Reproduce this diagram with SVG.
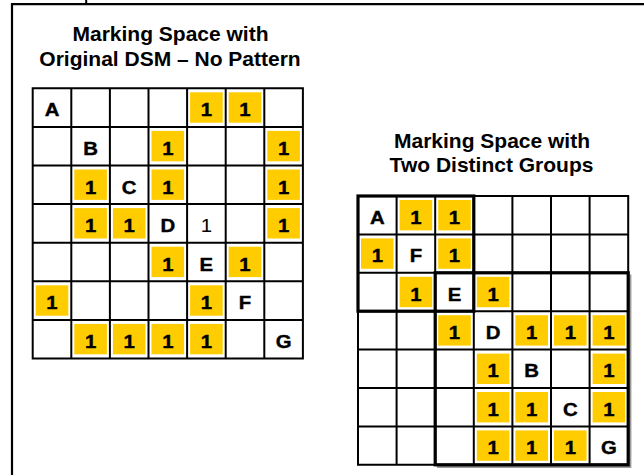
<svg xmlns="http://www.w3.org/2000/svg" width="644" height="475" viewBox="0 0 644 475">
<style>
.bg{fill:#fff}
.grid{fill:none;stroke:#000;stroke-width:2}
.thick{fill:none;stroke:#000;stroke-width:3.2}
.shadow{fill:none;stroke:#9a9a9a;stroke-width:2}
.y{fill:#FFCC00}
.t{font-family:"Liberation Sans",Arial,sans-serif;font-size:18.5px;font-weight:bold;fill:#000;stroke:#000;stroke-width:0.4;text-anchor:middle}
.n{font-weight:normal;stroke:none}
.title{font-family:"Liberation Sans",Arial,sans-serif;font-size:21px;font-weight:bold;fill:#000;text-anchor:middle}
</style>
<rect class="bg" x="0" y="0" width="644" height="475"/>
<g id="frame">
<path d="M12,475 V4.2 H644" fill="none" stroke="#000" stroke-width="2.2"/>
<line x1="86.2" y1="0" x2="86.2" y2="3.5" stroke="#000" stroke-width="2"/>
</g>
<g id="title-left">
<text class="title" x="170.5" y="41">Marking Space with</text>
<text class="title" x="170" y="65.5">Original DSM – No Pattern</text>
</g>
<g id="title-right">
<text class="title" x="492" y="147.5">Marking Space with</text>
<text class="title" x="491.5" y="172">Two Distinct Groups</text>
</g>
<g id="dsm-original" transform="translate(32.7,88.3)">
<rect class="bg" x="0" y="0" width="270.2" height="270.2"/>
<g id="marks-original">
<rect class="y" x="157.4" y="4" width="32.6" height="30.4"/>
<rect class="y" x="196" y="4" width="32.6" height="30.4"/>
<rect class="y" x="118.8" y="42.6" width="32.6" height="30.4"/>
<rect class="y" x="234.6" y="42.6" width="32.6" height="30.4"/>
<rect class="y" x="41.6" y="81.2" width="32.6" height="30.4"/>
<rect class="y" x="118.8" y="81.2" width="32.6" height="30.4"/>
<rect class="y" x="234.6" y="81.2" width="32.6" height="30.4"/>
<rect class="y" x="41.6" y="119.8" width="32.6" height="30.4"/>
<rect class="y" x="80.2" y="119.8" width="32.6" height="30.4"/>
<rect class="y" x="234.6" y="119.8" width="32.6" height="30.4"/>
<rect class="y" x="118.8" y="158.4" width="32.6" height="30.4"/>
<rect class="y" x="196" y="158.4" width="32.6" height="30.4"/>
<rect class="y" x="3" y="197" width="32.6" height="30.4"/>
<rect class="y" x="157.4" y="197" width="32.6" height="30.4"/>
<rect class="y" x="41.6" y="235.6" width="32.6" height="30.4"/>
<rect class="y" x="80.2" y="235.6" width="32.6" height="30.4"/>
<rect class="y" x="118.8" y="235.6" width="32.6" height="30.4"/>
<rect class="y" x="157.4" y="235.6" width="32.6" height="30.4"/>
</g>
<path class="grid" d="M0,0 H270.2 V270.2 H0 Z M38.6,0 V270.2 M77.2,0 V270.2 M115.8,0 V270.2 M154.4,0 V270.2 M193,0 V270.2 M231.6,0 V270.2 M0,38.6 H270.2 M0,77.2 H270.2 M0,115.8 H270.2 M0,154.4 H270.2 M0,193 H270.2 M0,231.6 H270.2"/>
<g id="labels-original">
<text class="t" transform="translate(19.3,28) scale(1.1,1)">A</text>
<text class="t" transform="translate(173.7,28) scale(1.1,1)">1</text>
<text class="t" transform="translate(212.3,28) scale(1.1,1)">1</text>
<text class="t" transform="translate(57.9,66.6) scale(1.1,1)">B</text>
<text class="t" transform="translate(135.1,66.6) scale(1.1,1)">1</text>
<text class="t" transform="translate(250.9,66.6) scale(1.1,1)">1</text>
<text class="t" transform="translate(57.9,105.2) scale(1.1,1)">1</text>
<text class="t" transform="translate(96.5,105.2) scale(1.1,1)">C</text>
<text class="t" transform="translate(135.1,105.2) scale(1.1,1)">1</text>
<text class="t" transform="translate(250.9,105.2) scale(1.1,1)">1</text>
<text class="t" transform="translate(57.9,143.8) scale(1.1,1)">1</text>
<text class="t" transform="translate(96.5,143.8) scale(1.1,1)">1</text>
<text class="t" transform="translate(135.1,143.8) scale(1.1,1)">D</text>
<text class="t n" transform="translate(173.7,143.8) scale(1.1,1)">1</text>
<text class="t" transform="translate(250.9,143.8) scale(1.1,1)">1</text>
<text class="t" transform="translate(135.1,182.4) scale(1.1,1)">1</text>
<text class="t" transform="translate(173.7,182.4) scale(1.1,1)">E</text>
<text class="t" transform="translate(212.3,182.4) scale(1.1,1)">1</text>
<text class="t" transform="translate(19.3,221) scale(1.1,1)">1</text>
<text class="t" transform="translate(173.7,221) scale(1.1,1)">1</text>
<text class="t" transform="translate(212.3,221) scale(1.1,1)">F</text>
<text class="t" transform="translate(57.9,259.6) scale(1.1,1)">1</text>
<text class="t" transform="translate(96.5,259.6) scale(1.1,1)">1</text>
<text class="t" transform="translate(135.1,259.6) scale(1.1,1)">1</text>
<text class="t" transform="translate(173.7,259.6) scale(1.1,1)">1</text>
<text class="t" transform="translate(250.9,259.6) scale(1.1,1)">G</text>
</g>
</g>
<g id="dsm-grouped" transform="translate(358,196)">
<rect class="bg" x="0" y="0" width="270.2" height="268.8"/>
<g id="marks-grouped">
<rect class="y" x="41.6" y="4" width="32.6" height="30.4"/>
<rect class="y" x="80.2" y="4" width="32.6" height="30.4"/>
<rect class="y" x="3" y="42.4" width="32.6" height="30.4"/>
<rect class="y" x="80.2" y="42.4" width="32.6" height="30.4"/>
<rect class="y" x="41.6" y="80.8" width="32.6" height="30.4"/>
<rect class="y" x="118.8" y="80.8" width="32.6" height="30.4"/>
<rect class="y" x="80.2" y="119.2" width="32.6" height="30.4"/>
<rect class="y" x="157.4" y="119.2" width="32.6" height="30.4"/>
<rect class="y" x="196" y="119.2" width="32.6" height="30.4"/>
<rect class="y" x="234.6" y="119.2" width="32.6" height="30.4"/>
<rect class="y" x="118.8" y="157.6" width="32.6" height="30.4"/>
<rect class="y" x="234.6" y="157.6" width="32.6" height="30.4"/>
<rect class="y" x="118.8" y="196" width="32.6" height="30.4"/>
<rect class="y" x="157.4" y="196" width="32.6" height="30.4"/>
<rect class="y" x="234.6" y="196" width="32.6" height="30.4"/>
<rect class="y" x="118.8" y="234.4" width="32.6" height="30.4"/>
<rect class="y" x="157.4" y="234.4" width="32.6" height="30.4"/>
<rect class="y" x="196" y="234.4" width="32.6" height="30.4"/>
</g>
<path class="grid" d="M0,0 H270.2 V268.8 H0 Z M38.6,0 V268.8 M77.2,0 V268.8 M115.8,0 V268.8 M154.4,0 V268.8 M193,0 V268.8 M231.6,0 V268.8 M0,38.4 H270.2 M0,76.8 H270.2 M0,115.2 H270.2 M0,153.6 H270.2 M0,192 H270.2 M0,230.4 H270.2"/>
<path class="shadow" d="M272.4,78.5 V271 H79"/>
<rect id="group-1" class="thick" x="0" y="0" width="115.8" height="115.2"/>
<rect id="group-2" class="thick" x="77.2" y="76.8" width="193" height="192"/>
<g id="labels-grouped">
<text class="t" transform="translate(19.3,27.8) scale(1.1,1)">A</text>
<text class="t" transform="translate(57.9,27.8) scale(1.1,1)">1</text>
<text class="t" transform="translate(96.5,27.8) scale(1.1,1)">1</text>
<text class="t" transform="translate(19.3,66.2) scale(1.1,1)">1</text>
<text class="t" transform="translate(57.9,66.2) scale(1.1,1)">F</text>
<text class="t" transform="translate(96.5,66.2) scale(1.1,1)">1</text>
<text class="t" transform="translate(57.9,104.6) scale(1.1,1)">1</text>
<text class="t" transform="translate(96.5,104.6) scale(1.1,1)">E</text>
<text class="t" transform="translate(135.1,104.6) scale(1.1,1)">1</text>
<text class="t" transform="translate(96.5,143) scale(1.1,1)">1</text>
<text class="t" transform="translate(135.1,143) scale(1.1,1)">D</text>
<text class="t" transform="translate(173.7,143) scale(1.1,1)">1</text>
<text class="t" transform="translate(212.3,143) scale(1.1,1)">1</text>
<text class="t" transform="translate(250.9,143) scale(1.1,1)">1</text>
<text class="t" transform="translate(135.1,181.4) scale(1.1,1)">1</text>
<text class="t" transform="translate(173.7,181.4) scale(1.1,1)">B</text>
<text class="t" transform="translate(250.9,181.4) scale(1.1,1)">1</text>
<text class="t" transform="translate(135.1,219.8) scale(1.1,1)">1</text>
<text class="t" transform="translate(173.7,219.8) scale(1.1,1)">1</text>
<text class="t" transform="translate(212.3,219.8) scale(1.1,1)">C</text>
<text class="t" transform="translate(250.9,219.8) scale(1.1,1)">1</text>
<text class="t" transform="translate(135.1,258.2) scale(1.1,1)">1</text>
<text class="t" transform="translate(173.7,258.2) scale(1.1,1)">1</text>
<text class="t" transform="translate(212.3,258.2) scale(1.1,1)">1</text>
<text class="t" transform="translate(250.9,258.2) scale(1.1,1)">G</text>
</g>
</g>
</svg>
